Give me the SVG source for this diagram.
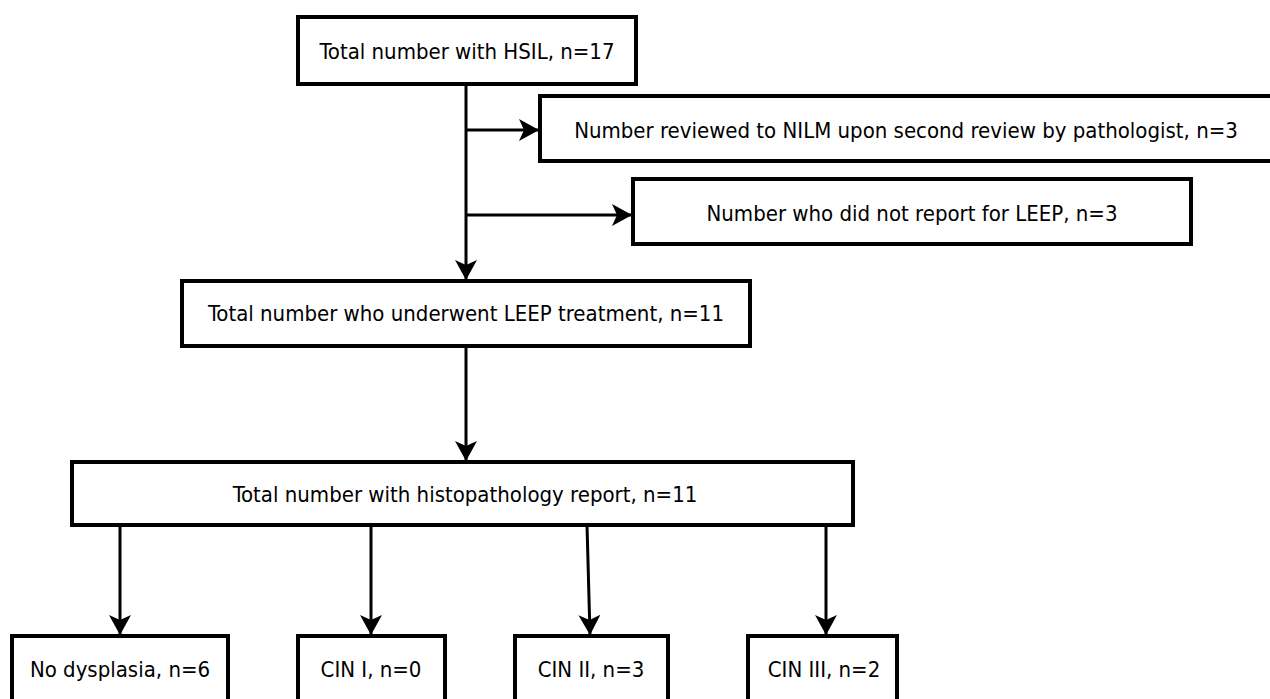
<svg xmlns="http://www.w3.org/2000/svg" width="1270" height="699" viewBox="0 0 1270 699">
<style>
.box{fill:#fff;stroke:#000;stroke-width:4}
.lbl{font-family:"DejaVu Sans Condensed","DejaVu Sans",sans-serif;font-size:22px;fill:#000;text-anchor:middle;dominant-baseline:central}
.con{fill:none;stroke:#000;stroke-width:3}
</style>
<defs>
<marker id="ah" viewBox="0 0 20 22" refX="20" refY="11" markerWidth="20" markerHeight="22" markerUnits="userSpaceOnUse" orient="auto">
<path d="M0,0 L20,11 L0,22 L5,11 Z" fill="#000"/>
</marker>
</defs>
<rect width="1270" height="699" fill="#fff"/>
<g id="connectors">
<line class="con" x1="466" y1="84" x2="466" y2="280" marker-end="url(#ah)"/>
<line class="con" x1="466" y1="130" x2="539" y2="130" marker-end="url(#ah)"/>
<line class="con" x1="466" y1="215" x2="632" y2="215" marker-end="url(#ah)"/>
<line class="con" x1="466" y1="346" x2="466" y2="461" marker-end="url(#ah)"/>
<line class="con" x1="120" y1="525" x2="120" y2="635" marker-end="url(#ah)"/>
<line class="con" x1="371" y1="525" x2="371" y2="635" marker-end="url(#ah)"/>
<line class="con" x1="587" y1="525" x2="590" y2="635" marker-end="url(#ah)"/>
<line class="con" x1="826" y1="525" x2="826" y2="635" marker-end="url(#ah)"/>
</g>
<g id="n1"><rect class="box" x="298" y="17" width="338" height="67"/><text class="lbl" x="467" y="51">Total number with HSIL, n=17</text></g>
<g id="n2"><rect class="box" x="540" y="96" width="734" height="65"/><text class="lbl" x="906" y="130">Number reviewed to NILM upon second review by pathologist, n=3</text></g>
<g id="n3"><rect class="box" x="633" y="179" width="558" height="65"/><text class="lbl" x="912" y="213">Number who did not report for LEEP, n=3</text></g>
<g id="n4"><rect class="box" x="182" y="281" width="568" height="65"/><text class="lbl" x="466" y="313">Total number who underwent LEEP treatment, n=11</text></g>
<g id="n5"><rect class="box" x="72" y="462" width="781" height="63"/><text class="lbl" x="465" y="494">Total number with histopathology report, n=11</text></g>
<g id="n6"><rect class="box" x="12" y="636" width="216" height="70"/><text class="lbl" x="120" y="669">No dysplasia, n=6</text></g>
<g id="n7"><rect class="box" x="298" y="636" width="147" height="70"/><text class="lbl" x="371" y="669">CIN I, n=0</text></g>
<g id="n8"><rect class="box" x="515" y="636" width="153" height="70"/><text class="lbl" x="591" y="669">CIN II, n=3</text></g>
<g id="n9"><rect class="box" x="748" y="636" width="149" height="70"/><text class="lbl" x="824" y="669">CIN III, n=2</text></g>
</svg>
